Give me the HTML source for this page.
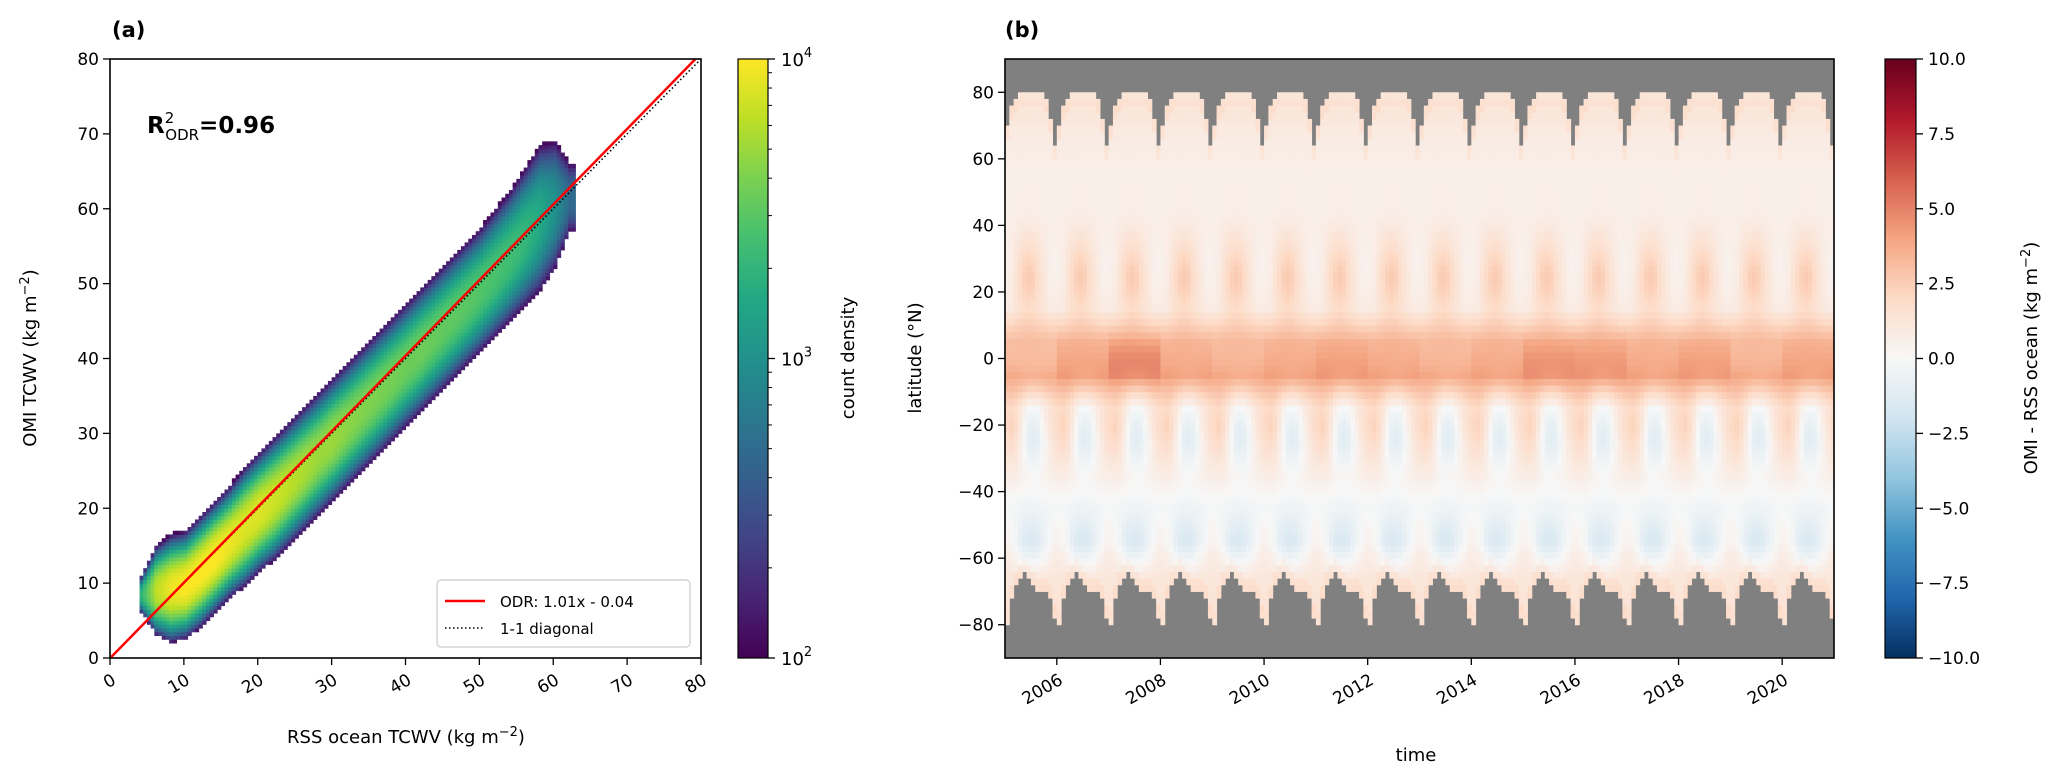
<!DOCTYPE html>
<html><head><meta charset="utf-8">
<style>
html,body{margin:0;padding:0;background:#fff;}
svg{display:block;font-family:"DejaVu Sans","Liberation Sans",sans-serif;}
</style></head>
<body>
<svg id="fig" width="2067" height="779" viewBox="0 0 2067 779" xmlns="http://www.w3.org/2000/svg">
<defs>
<linearGradient id="gradViridis" x1="0" y1="1" x2="0" y2="0"></linearGradient>
<linearGradient id="gradRdBu" x1="0" y1="1" x2="0" y2="0"></linearGradient>
<clipPath id="clipA"><rect x="110" y="59" width="591" height="599"/></clipPath>
</defs>
<g id="panelA">
<g id="cellsA" clip-path="url(#clipA)"></g>
<g id="linesA" clip-path="url(#clipA)"></g>
<rect x="110" y="59" width="591" height="599" fill="none" stroke="#000" stroke-width="1.6"/>
<g id="ticksA"></g>
<text x="112" y="37" font-size="21" font-weight="bold">(a)</text>
<text x="147" y="133" font-size="23" font-weight="bold">R<tspan dy="-10" font-size="15" font-weight="normal">2</tspan><tspan dx="-9" dy="17" font-size="15" font-weight="normal">ODR</tspan><tspan dy="-7">=0.96</tspan></text>
<text transform="translate(36,358) rotate(-90)" text-anchor="middle" font-size="18">OMI TCWV (kg m<tspan dy="-7" font-size="13">−2</tspan><tspan dy="7">)</tspan></text>
<text x="406" y="743" text-anchor="middle" font-size="18">RSS ocean TCWV (kg m<tspan dy="-7" font-size="13">−2</tspan><tspan dy="7">)</tspan></text>
<g>
<rect x="437" y="580" width="253" height="67" rx="4" fill="#fff" fill-opacity="0.85" stroke="#ccc" stroke-width="1.2"/>
<line x1="445" y1="601" x2="485" y2="601" stroke="#f00" stroke-width="2.5"/>
<text x="500" y="607" font-size="15">ODR: 1.01x - 0.04</text>
<line x1="445" y1="628" x2="485" y2="628" stroke="#000" stroke-width="1.6" stroke-dasharray="1.5,2.5"/>
<text x="500" y="634" font-size="15">1-1 diagonal</text>
</g>
</g>
<g id="cbarA">
<rect x="738" y="59" width="30" height="599" fill="url(#gradViridis)" stroke="#000" stroke-width="1.2"/>
<g id="cbarATicks"></g>
<text transform="translate(854,358) rotate(-90)" text-anchor="middle" font-size="18">count density</text>
</g>
<g id="panelB">
<rect x="1005" y="59" width="829" height="599" fill="#808080"/>
<g id="cellsB"></g>
<rect x="1005" y="59" width="829" height="599" fill="none" stroke="#000" stroke-width="1.6"/>
<g id="ticksB"></g>
<text x="1005" y="37" font-size="21" font-weight="bold">(b)</text>
<text transform="translate(921,358) rotate(-90)" text-anchor="middle" font-size="18">latitude (°N)</text>
<text x="1416" y="761" text-anchor="middle" font-size="18">time</text>
</g>
<g id="cbarB">
<rect x="1885" y="59" width="31" height="599" fill="url(#gradRdBu)" stroke="#000" stroke-width="1.2"/>
<g id="cbarBTicks"></g>
<text transform="translate(2037,358) rotate(-90)" text-anchor="middle" font-size="18">OMI - RSS ocean (kg m<tspan dy="-7" font-size="13">−2</tspan><tspan dy="7">)</tspan></text>
</g>
</svg>
<script>
// ---------- Panel (a) data ----------
const colX    = [4,6,8,10,12,14,16,18,20,22,24,26,28,30,32,34,36,38,40,42,44,46,48,50,52,54,56,58,60,62];
const colLow  = [6,3,2,2.5,4,6,8,9.5,11.5,13,15,17,19,21,23,25,27,29,31,33,35,37,39,41,43,45,47,49,52,57];
const colHigh = [11,15,16.5,17,19,21,23,25.5,27.5,29.5,31.5,33.5,35.5,37.5,39.5,41.5,43.5,45.5,47.5,49.5,51.5,53.5,55.5,57.5,60,62.5,65.5,68.5,69,66];
const colPeak = [3.3,3.8,3.95,4.0,4.0,4.0,3.95,3.9,3.9,3.85,3.8,3.75,3.7,3.7,3.65,3.62,3.6,3.58,3.55,3.55,3.52,3.5,3.48,3.45,3.42,3.38,3.32,3.2,3.0,2.7];
const axisATicks = [0,10,20,30,40,50,60,70,80];
const odrSlope = 1.01, odrIntercept = -0.04;
const cbarALabels = ["10","10","10"], cbarAExp = [2,3,4];

// ---------- Panel (b) data ----------
const years = [2005,2006,2007,2008,2009,2010,2011,2012,2013,2014,2015,2016,2017,2018,2019,2020];
const northLimit = [70,76,78,80,80,80,80,80,80,78,72,64];
const southLimit = [-80,-72,-68,-66,-64,-66,-68,-70,-70,-70,-72,-78];
const latBands   = [-85,-75,-65,-55,-45,-35,-25,-15,-5,5,15,25,35,45,55,65,75,85];
const latProfile = [0,1.4,1.0,-0.5,-0.3,0.4,0.2,0.8,4.0,3.4,1.3,1.4,1.0,0.6,0.6,0.8,1.2,0];
const seasonSouth = [1.6,1.8,1.4,0.6,-0.4,-1.2,-1.4,-1.2,-0.6,0.2,0.8,1.3];
const seasonNorth = [-0.8,-0.6,0.0,0.6,1.0,1.2,1.0,0.5,0.0,-0.4,-0.8,-0.9];
const seasonPolarSouth = [0.8,0.6,0.2,-0.4,-0.8,-1.0,-1.0,-0.8,-0.4,0.0,0.4,0.8];
const equatorYear = [0.85,1.05,1.3,1.0,0.9,1.0,1.1,1.0,0.9,1.0,1.2,1.15,1.0,1.1,0.9,1.05];
const yearTicks = [2006,2008,2010,2012,2014,2016,2018,2020];
const latTicks = [-80,-60,-40,-20,0,20,40,60,80];
const cbarBTicks = [-10,-7.5,-5,-2.5,0,2.5,5,7.5,10];

const NS = "http://www.w3.org/2000/svg";
function mk(tag, attrs, parent){const e=document.createElementNS(NS,tag);for(const k in attrs)e.setAttribute(k,attrs[k]);if(parent)parent.appendChild(e);return e;}

const viridisStops=["#440154","#482475","#414487","#355f8d","#2a788e","#21918c","#22a884","#44bf70","#7ad151","#bddf26","#fde725"];
const rdbuStops=["#053061","#2166ac","#4393c3","#92c5de","#d1e5f0","#f7f7f7","#fddbc7","#f4a582","#d6604d","#b2182b","#67001f"];
function hex(h){return [parseInt(h.substr(1,2),16),parseInt(h.substr(3,2),16),parseInt(h.substr(5,2),16)];}
function cmap(stops,t){t=Math.max(0,Math.min(1,t));const f=t*(stops.length-1);const i=Math.min(stops.length-2,Math.floor(f));const r=f-i;const a=hex(stops[i]),b=hex(stops[i+1]);return "rgb("+a.map((v,k)=>Math.round(v+(b[k]-v)*r)).join(",")+")";}

[["gradViridis",viridisStops],["gradRdBu",rdbuStops]].forEach(([id,st])=>{const g=document.getElementById(id);st.forEach((c,i)=>mk("stop",{offset:(i/(st.length-1)*100)+"%","stop-color":c},g));});

// ---- Panel a
const ax={x0:110,x1:701,y0:658,y1:59};
const xA=v=>ax.x0+(v/80)*(ax.x1-ax.x0);
const yA=v=>ax.y0-(v/80)*(ax.y0-ax.y1);
function interpCol(arr,x){if(x<=colX[0])return arr[0];for(let i=0;i<colX.length-1;i++)if(x<=colX[i+1]){const r=(x-colX[i])/(colX[i+1]-colX[i]);return arr[i]+(arr[i+1]-arr[i])*r;}return arr[arr.length-1];}
const cellsA=document.getElementById("cellsA");
const step=0.5;
for(let x=colX[0]; x<colX[colX.length-1]+1; x+=step){
  const lo=interpCol(colLow,x),hi=interpCol(colHigh,x),pk=interpCol(colPeak,x);
  const c=(lo+hi)/2, half=(hi-lo)/2;
  for(let y=Math.round(lo*2)/2;y<hi;y+=step){
    const d=Math.min(1,Math.abs(y+step/2-c)/half);
    const lg=pk-(pk-2.05)*Math.pow(d,2.4);
    const r=mk("rect",{x:xA(x).toFixed(2),y:yA(y+step).toFixed(2),width:(xA(step)-xA(0)+0.5).toFixed(2),height:(yA(y)-yA(y+step)+0.5).toFixed(2),fill:cmap(viridisStops,(lg-2)/2)},cellsA);
    
    
  }
}
const linesA=document.getElementById("linesA");
const diag=mk("line",{x1:xA(0),y1:yA(0),x2:xA(80),y2:yA(80),stroke:"#000","stroke-width":1.6,"stroke-dasharray":"1.5,2.5"},linesA);


const odr=mk("line",{x1:xA(0),y1:yA(odrIntercept),x2:xA(80),y2:yA(odrSlope*80+odrIntercept),stroke:"#f00","stroke-width":2.5},linesA);



const tA=document.getElementById("ticksA");
axisATicks.forEach(v=>{
  const l1=mk("line",{x1:xA(v),y1:ax.y0,x2:xA(v),y2:ax.y0+7,stroke:"#000","stroke-width":1.3},tA);
  
  
  const t1=mk("text",{x:xA(v)+4,y:ax.y0+26,"text-anchor":"end","font-size":17,transform:`rotate(-30 ${xA(v)+4} ${ax.y0+20})`},tA);t1.textContent=v;
  
  
  const l2=mk("line",{x1:ax.x0-7,y1:yA(v),x2:ax.x0,y2:yA(v),stroke:"#000","stroke-width":1.3},tA);
  
  
  const t2=mk("text",{x:ax.x0-11,y:yA(v)+6,"text-anchor":"end","font-size":17},tA);t2.textContent=v;
  
  
});
const cA=document.getElementById("cbarATicks");
const yCA=lg=>658-(lg-2)/2*599;
for(let dec=2;dec<4;dec++)for(let m=2;m<10;m++){const y=yCA(dec+Math.log10(m));const l=mk("line",{x1:768,y1:y,x2:772,y2:y,stroke:"#000","stroke-width":1},cA);
  
  }
cbarAExp.forEach((e,i)=>{const y=yCA(e);const l=mk("line",{x1:768,y1:y,x2:775,y2:y,stroke:"#000","stroke-width":1.3},cA);
  
  
  const t=mk("text",{x:781,y:y+7,"font-size":18},cA);t.textContent=cbarALabels[i];
  const s=mk("tspan",{dy:-9,"font-size":13},t);s.textContent=e;
  
  });

// ---- Panel b
const bx={x0:1005,x1:1834,y0:658,y1:59};
const t0=2005, t1=2021;
const xB=t=>bx.x0+(t-t0)/(t1-t0)*(bx.x1-bx.x0);
const yB=l=>bx.y0-(l+90)/180*(bx.y0-bx.y1);
function profileAt(lat){if(lat<=latBands[0])return latProfile[0];if(lat>=latBands[latBands.length-1])return latProfile[latBands.length-1];
  for(let i=0;i<latBands.length-1;i++)if(lat<=latBands[i+1]){const r=(lat-latBands[i])/10;return latProfile[i]+(latProfile[i+1]-latProfile[i])*r;}}
const cellsB=document.getElementById("cellsB");
const cw=xB(t0+1/12)-xB(t0), ch=yB(0)-yB(2);
years.forEach((yr,yi)=>{
  for(let mo=0;mo<12;mo++){
    const nl=northLimit[mo], sl=southLimit[mo];
    for(let lat=-90;lat<90;lat+=2){
      const lc=lat+1;
      if(lc>nl||lc<sl)continue;
      let v=profileAt(lc);
      const eqW=Math.exp(-Math.pow(lc/7,2));
      v=v*(1-eqW)+v*eqW*equatorYear[yi];
      const sW=Math.exp(-Math.pow((lc+22)/11,2)), nW=Math.exp(-Math.pow((lc-25)/12,2)), pW=Math.exp(-Math.pow((lc+55)/8,2));
      v+=seasonSouth[mo]*sW+seasonNorth[mo]*nW+seasonPolarSouth[mo]*pW;
      if(lc>nl-4||lc<sl+4)v+=0.6;
      const r=mk("rect",{x:(xB(yr+mo/12)).toFixed(2),y:(yB(lat+2)).toFixed(2),width:(cw+0.5).toFixed(2),height:(ch+0.5).toFixed(2),fill:cmap(rdbuStops,(v+10)/20)},cellsB);
      
      
    }
  }
});
const tB=document.getElementById("ticksB");
yearTicks.forEach(yr=>{const x=xB(yr);
  const l=mk("line",{x1:x,y1:bx.y0,x2:x,y2:bx.y0+7,stroke:"#000","stroke-width":1.3},tB);
  
  
  const t=mk("text",{x:x+4,y:bx.y0+26,"text-anchor":"end","font-size":17,transform:`rotate(-30 ${x+4} ${bx.y0+20})`},tB);t.textContent=yr;
  
  });
latTicks.forEach(v=>{const y=yB(v);
  const l=mk("line",{x1:bx.x0-7,y1:y,x2:bx.x0,y2:y,stroke:"#000","stroke-width":1.3},tB);
  
  
  const t=mk("text",{x:bx.x0-11,y:y+6,"text-anchor":"end","font-size":17},tB);t.textContent=(v<0?"−":"")+Math.abs(v);
  
  });
const cB=document.getElementById("cbarBTicks");
cbarBTicks.forEach(v=>{const y=658-(v+10)/20*599;
  const l=mk("line",{x1:1916,y1:y,x2:1923,y2:y,stroke:"#000","stroke-width":1.3},cB);
  
  
  const t=mk("text",{x:1928,y:y+6,"font-size":17},cB);t.textContent=(v<0?"−":"")+Math.abs(v).toFixed(1);
  
  });
</script>
</body></html>
